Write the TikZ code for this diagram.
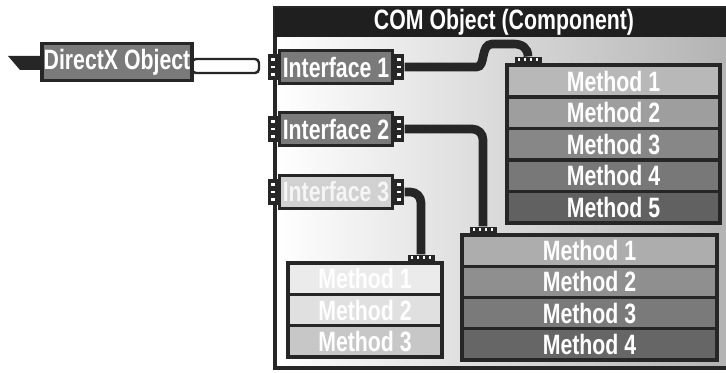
\documentclass[tikz,border=0pt]{standalone}
\usepackage{fontspec}
\setmainfont{Liberation Sans}
\usetikzlibrary{calc}
\newcommand\sqz[1]{\scalebox{0.76}[1]{#1}}
\begin{document}
\begin{tikzpicture}[x=0.75pt,y=-0.75pt,
  sz/.style 2 args={minimum width=#1*0.75pt, minimum height=#2*0.75pt},
  lbl/.style={text=white, font=\fontsize{21}{22}\selectfont\bfseries, inner sep=0pt},
  iface/.style={lbl, draw=black!85, line width=2.3pt, fill=black!52, sz={113}{33}},
  row/.style={lbl, draw=black!85, line width=2.6pt},
  wire/.style={draw=black!85, line width=6.5pt, rounded corners=8pt},
  plugv/.style={fill=black!85, inner sep=0pt, sz={10}{26},
    path picture={\foreach \k in {-1,0,1}{\fill[white] ($(path picture bounding box.center)+(-1.6pt,\k*5.5pt-1.1pt)$) rectangle ++(3.2pt,2.2pt);}}},
  plugh/.style={fill=black!85, inner sep=0pt, sz={27}{8},
    path picture={\foreach \k in {-1.5,-0.5,0.5,1.5}{\fill[white] ($(path picture bounding box.center)+(\k*4.5pt-1.1pt,-0.3pt)$) rectangle ++(2.2pt,2.2pt);}}}
]
\useasboundingbox (0,0) rectangle (726,373);
\fill[white] (0,0) rectangle (726,373);

% COM object frame
\fill[left color=white, right color=black!30] (275,37) rectangle (730,368);
\draw[black!85, line width=2.4pt] (275,8) rectangle (730,368);
\fill[black!88] (275,8) rectangle (730,37);
\node[lbl] (title) at (504,22) {\sqz{COM Object (Component)}};

% DirectX object
\fill[black!85] (8,56) -- (44,56) -- (44,70) -- (20,70) -- cycle;
\draw[black!85, line width=1.8pt, fill=white, rounded corners=3pt] (192,59) rectangle (259,73);
\node[lbl, draw=black!85, line width=2.3pt, fill=black!52, sz={150}{37}] (dx) at (117,62) {\sqz{DirectX Object}};

% Interfaces
\node[iface] (i1) at (336,67) {\sqz{Interface 1}};
\node[iface] (i2) at (336,129) {\sqz{Interface 2}};
\node[iface, fill=black!18, text=black!4] (i3) at (336,192) {\sqz{Interface 3}};
\foreach \n in {i1,i2,i3}{
  \node[plugv, anchor=east] (\n l) at (\n.west) {};
  \node[plugv, anchor=west] (\n r) at (\n.east) {};
}

% Method box 1
\node[row, fill=black!28, sz={213}{31.6}] (m1a) at (613.5,81) {\sqz{Method 1}};
\node[row, fill=black!38, sz={213}{31.6}] (m1b) at (613.5,112.6) {\sqz{Method 2}};
\node[row, fill=black!47, sz={213}{31.6}] (m1c) at (613.5,144.2) {\sqz{Method 3}};
\node[row, fill=black!53, sz={213}{31.6}] (m1d) at (613.5,175.8) {\sqz{Method 4}};
\node[row, fill=black!62, sz={213}{31.6}] (m1e) at (613.5,207.4) {\sqz{Method 5}};
\node[plugh, anchor=south] (m1p) at (528,65) {};

% Method box 2
\node[row, fill=black!32, sz={255}{31.3}] (m2a) at (589.5,250.6) {\sqz{Method 1}};
\node[row, fill=black!44, sz={255}{31.3}] (m2b) at (589.5,281.9) {\sqz{Method 2}};
\node[row, fill=black!52, sz={255}{31.3}] (m2c) at (589.5,313.1) {\sqz{Method 3}};
\node[row, fill=black!60, sz={255}{31.3}] (m2d) at (589.5,344.4) {\sqz{Method 4}};
\node[plugh, anchor=south] (m2p) at (483,235) {};

% Method box 3
\node[row, fill=black!8, text=white, sz={154}{31.3}] (m3a) at (365,278.7) {\sqz{Method 1}};
\node[row, fill=black!12, text=white, sz={154}{31.3}] (m3b) at (365,310) {\sqz{Method 2}};
\node[row, fill=black!22, text=white, sz={154}{31.3}] (m3c) at (365,341.3) {\sqz{Method 3}};
\node[plugh, anchor=south] (m3p) at (421,263) {};

% Wires
\draw[wire] (i1r.east) -- (466,67) .. controls (486,67) and (480,44) .. (503,44) .. controls (522,44) and (528,48) .. (m1p.north);
\draw[wire] (i2r.east) -| (m2p.north);
\draw[wire] (i3r.east) -| (m3p.north);
\end{tikzpicture}
\end{document}
